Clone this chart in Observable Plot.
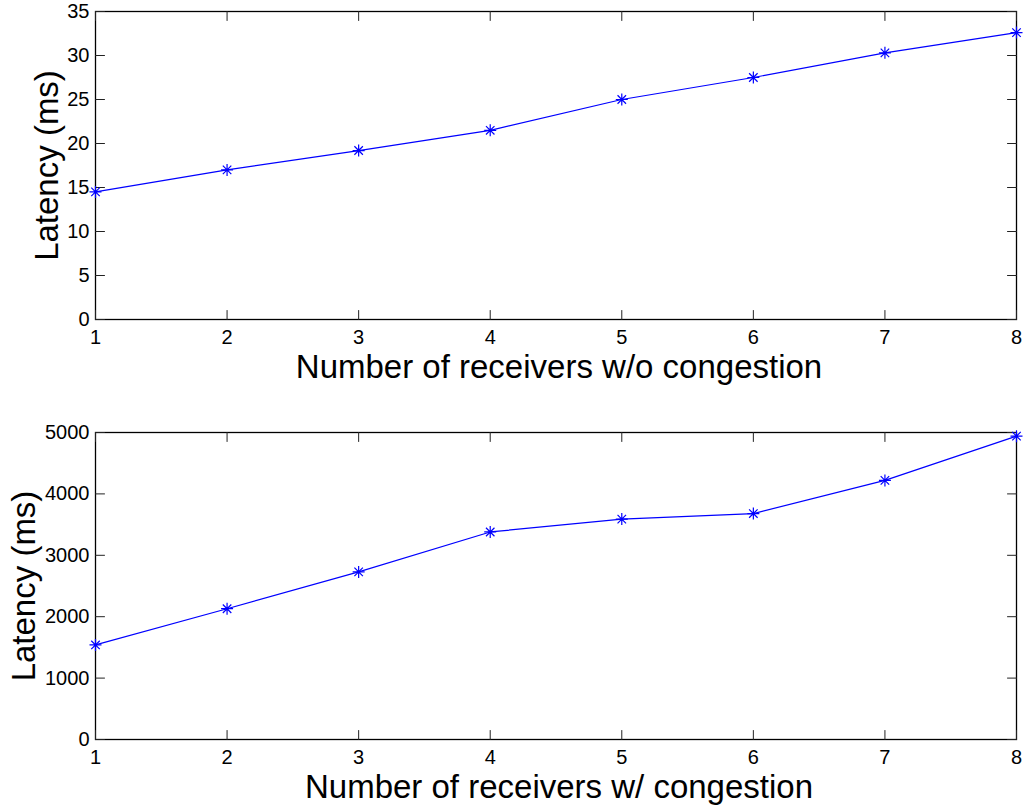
<!DOCTYPE html>
<html>
<head>
<meta charset="utf-8">
<script src="https://cdn.jsdelivr.net/npm/d3@7"></script>
<script src="https://cdn.jsdelivr.net/npm/@observablehq/plot@0.6"></script>
<style>
  html, body { margin: 0; padding: 0; background: #fff; }
  #chart svg { display: block; }
</style>
</head>
<body>
<div id="chart"></div>
<script>
// Number of receivers on the x axis
const receivers = [1, 2, 3, 4, 5, 6, 7, 8];

// Latency (ms) without congestion
const latencyNoCongestion = [14.5, 17.0, 19.2, 21.5, 25.0, 27.5, 30.3, 32.6];

// Latency (ms) with congestion
const latencyCongestion = [1540, 2130, 2730, 3380, 3590, 3680, 4220, 4940];

// Tick values
const xTicks = [1, 2, 3, 4, 5, 6, 7, 8];
const yTicksTop = [0, 5, 10, 15, 20, 25, 30, 35];
const yTicksBottom = [0, 1000, 2000, 3000, 4000, 5000];

const FONT = "'Liberation Sans', Arial, Helvetica, sans-serif";
const BLUE = "#0000ff";

// eight-spoke asterisk marker (a plus and a cross)
const asterisk = {
  draw(ctx, size) {
    const r = Math.sqrt(size / Math.PI);
    const d = r * Math.SQRT1_2;
    ctx.moveTo(-r, 0); ctx.lineTo(r, 0);
    ctx.moveTo(0, -r); ctx.lineTo(0, r);
    ctx.moveTo(-d, -d); ctx.lineTo(d, d);
    ctx.moveTo(-d, d); ctx.lineTo(d, -d);
  }
};

// straight tick segment drawn by the vector mark
const tickLine = {
  draw(ctx, l) { ctx.moveTo(0, 0); ctx.lineTo(0, -l); }
};

function inwardTicks(values, channel, frameAnchor, rotate) {
  return Plot.vector(values, {
    [channel]: d => d,
    frameAnchor,
    rotate,
    length: 9,
    anchor: "start",
    shape: tickLine,
    stroke: "#222",
    strokeWidth: 1
  });
}

const plain = d => String(d);

function panel({values, yDomain, yTicks, height, marginBottom, xLabel, yLabelDx}) {
  const rows = receivers.map((r, i) => ({receivers: r, latency: values[i]}));
  return Plot.plot({
    width: 1026,
    height,
    marginTop: 11,
    marginBottom,
    marginLeft: 95,
    marginRight: 10,
    style: {fontFamily: FONT, fontSize: "20px", color: "#000", background: "#fff", overflow: "visible"},
    x: {domain: [1, 8]},
    y: {domain: yDomain},
    marks: [
      Plot.frame({stroke: "#000", strokeWidth: 1.3}),
      inwardTicks(yTicks, "y", "left", 90),
      inwardTicks(yTicks, "y", "right", -90),
      inwardTicks(xTicks, "x", "bottom", 0),
      inwardTicks(xTicks, "x", "top", 180),
      Plot.axisY({ticks: yTicks, tickFormat: plain, tickSize: 0, tickPadding: 6, label: null, fontSize: 20}),
      Plot.axisX({ticks: xTicks, tickFormat: plain, tickSize: 0, tickPadding: 10, label: null, fontSize: 20}),
      Plot.line(rows, {x: "receivers", y: "latency", stroke: BLUE, strokeWidth: 1.2}),
      Plot.dot(rows, {x: "receivers", y: "latency", symbol: asterisk, r: 6, fill: "none", stroke: BLUE, strokeWidth: 1.2}),
      Plot.text([xLabel], {
        text: d => d, frameAnchor: "bottom", dy: 58, dx: 3,
        lineAnchor: "bottom", textAnchor: "middle", fontSize: 33, fill: "#000"
      }),
      Plot.text(["Latency (ms)"], {
        text: d => d, frameAnchor: "left", dx: yLabelDx, rotate: -90,
        lineAnchor: "bottom", textAnchor: "middle", fontSize: 33, fill: "#000"
      })
    ]
  });
}

const chart = document.getElementById("chart");
chart.append(panel({
  values: latencyNoCongestion,
  yDomain: [0, 35],
  yTicks: yTicksTop,
  height: 421,
  marginBottom: 102,
  xLabel: "Number of receivers w/o congestion",
  yLabelDx: -38
}));
chart.append(panel({
  values: latencyCongestion,
  yDomain: [0, 5000],
  yTicks: yTicksBottom,
  height: 386,
  marginBottom: 68,
  xLabel: "Number of receivers w/ congestion",
  yLabelDx: -61
}));
</script>
</body>
</html>
